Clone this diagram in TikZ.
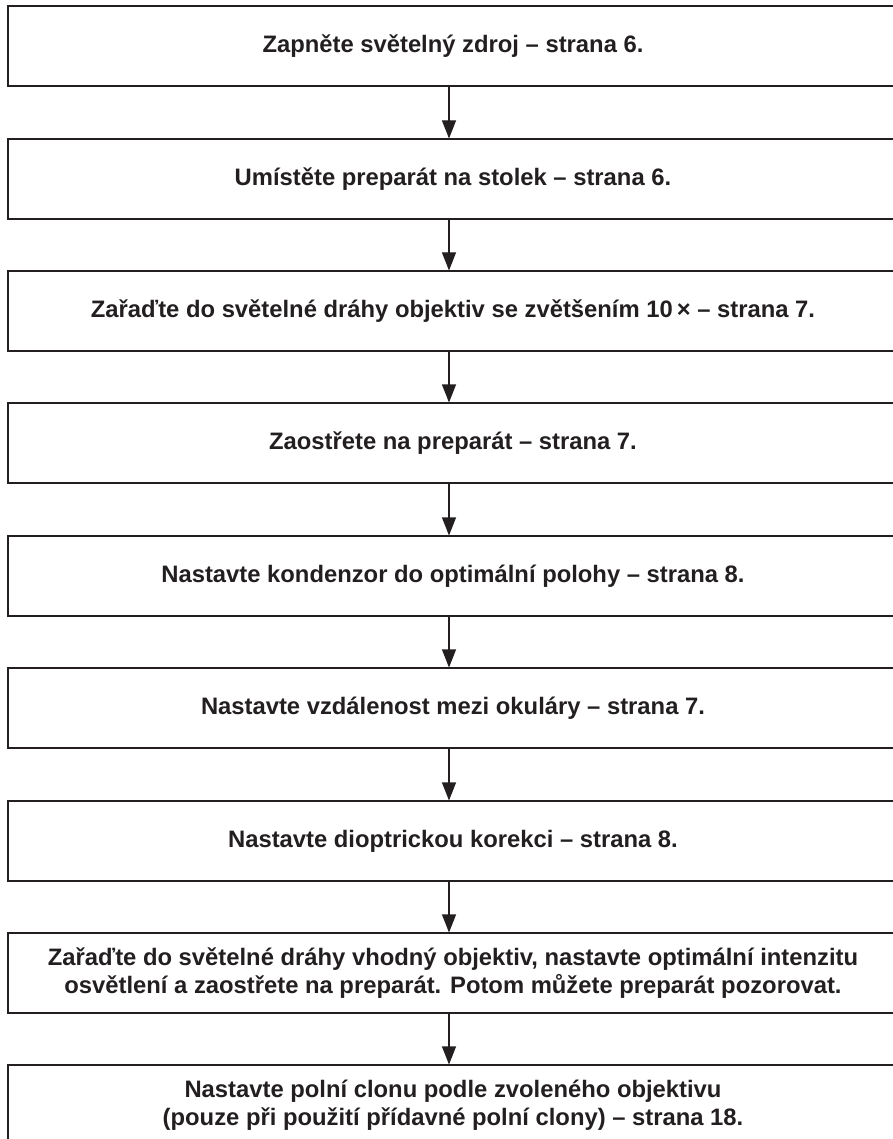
\documentclass[tikz,border=0pt]{standalone}
\usepackage{fontspec}
\setmainfont{Liberation Sans}
\usetikzlibrary{arrows.meta}
\definecolor{inkc}{HTML}{231F20}
\tikzset{
  stepbox/.style={draw=inkc, line width=1.1pt, minimum width=890pt, minimum height=80pt,
    inner sep=0pt, align=center, text=inkc,
    font=\fontsize{23.8}{27.5}\selectfont\bfseries},
  flowarrow/.style={draw=inkc, line width=1.1pt, -{Triangle[width=14pt,length=18pt]}}
}
\begin{document}
\begin{tikzpicture}[x=1pt,y=-1pt]
\useasboundingbox (0,0) rectangle (893,1139);
\clip (0,0) rectangle (893,1139);
\node[stepbox] (b1) at (453,46) {Zapněte světelný zdroj – strana 6.};
\node[stepbox] (b2) at (453,179) {Umístěte preparát na stolek – strana 6.};
\node[stepbox] (b3) at (453,311) {Zařaďte do světelné dráhy objektiv se zvětšením 10\,× – strana 7.};
\node[stepbox] (b4) at (453,443) {Zaostřete na preparát – strana 7.};
\node[stepbox] (b5) at (453,576) {Nastavte kondenzor do optimální polohy – strana 8.};
\node[stepbox] (b6) at (453,708) {Nastavte vzdálenost mezi okuláry – strana 7.};
\node[stepbox] (b7) at (453,841) {Nastavte dioptrickou korekci – strana 8.};
\node[stepbox] (b8) at (453,973) {Zařaďte do světelné dráhy vhodný objektiv, nastavte optimální intenzitu\\osvětlení a zaostřete na preparát. Potom můžete preparát pozorovat.};
\node[stepbox] (b9) at (453,1105) {Nastavte polní clonu podle zvoleného objektivu\\(pouze při použití přídavné polní clony) – strana 18.};
\foreach \a/\b in {b1/b2,b2/b3,b3/b4,b4/b5,b5/b6,b6/b7,b7/b8,b8/b9}
  \draw[flowarrow] ([xshift=-4pt]\a.south) -- ([xshift=-4pt]\b.north);
\end{tikzpicture}
\end{document}
